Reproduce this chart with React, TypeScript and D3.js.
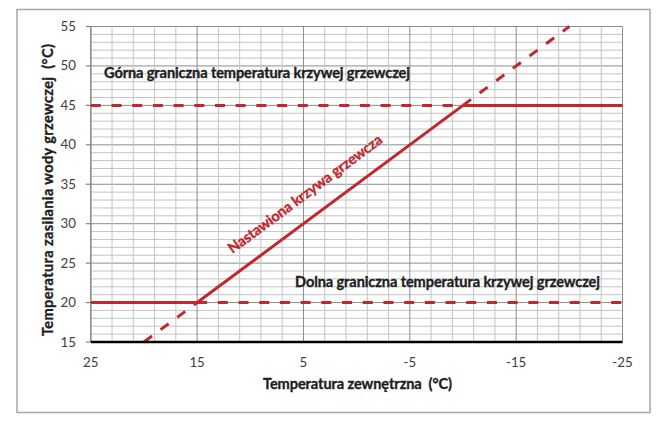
import React from "react";
import * as d3 from "d3";

const xTicks = [25, 15, 5, -5, -15, -25];
const yTicks = [15, 20, 25, 30, 35, 40, 45, 50, 55];
// heating curve: dashed lower part, solid set part, dashed upper part
const curveLowDashed: [number, number][] = [[20, 15], [15, 20]];
const curveSolid: [number, number][] = [[15, 20], [-10, 45]];
const curveHighDashed: [number, number][] = [[-10, 45], [-20, 55]];
// lower limit (20 °C)
const lowSolid: [number, number][] = [[25, 20], [15, 20]];
const lowDashed: [number, number][] = [[15, 20], [-25, 20]];
// upper limit (45 °C)
const highDashed: [number, number][] = [[25, 45], [-10, 45]];
const highSolid: [number, number][] = [[-10, 45], [-25, 45]];

const labelUpper = "Górna graniczna temperatura krzywej grzewczej";
const labelLower = "Dolna graniczna temperatura krzywej grzewczej";
const labelCurve = "Nastawiona krzywa grzewcza";
const xTitle = "Temperatura zewnętrzna\u00a0 (°C)";
const yTitle = "Temperatura zasilania wody grzewczej\u00a0 (°C)";

const RED = "#c1272d";
const FONT = "Lato, 'Open Sans', sans-serif";

export default function App() {
  const x = d3.scaleLinear().domain([25, -25]).range([90.8, 622.5]);
  const y = d3.scaleLinear().domain([15, 55]).range([342, 26.5]);
  const line = d3
    .line<[number, number]>()
    .x((d) => x(d[0]))
    .y((d) => y(d[1]));
  const xMinor = d3.range(-25, 25.01, 2);
  const yMinor = d3.range(15, 55.01, 1);
  const dash = "10 10.7";
  const fs = 14.6;
  const dark = "#1e1e1e";

  return (
    <svg
      width={670}
      height={427}
      style={{ position: "absolute", left: 0, top: 0, background: "#fff" }}
      fontFamily={FONT}
    >
      <rect x={17} y={9.5} width={633} height={403} fill="#fff" stroke="#a6a6a6" strokeWidth={1.5} />
      {/* minor grid */}
      {yMinor.map((v) => (
        <line key={"ym" + v} x1={x(25)} x2={x(-25)} y1={y(v)} y2={y(v)} stroke={v % 5 === 0 ? "#8c8c8c" : "#c4c4c4"} strokeWidth={1} />
      ))}
      {xMinor.map((v) => (
        <line key={"xm" + v} x1={x(v)} x2={x(v)} y1={y(15)} y2={y(55)} stroke={(v + 25) % 10 === 0 ? "#8c8c8c" : "#c4c4c4"} strokeWidth={1} />
      ))}
      {/* left axis */}
      <line x1={x(25)} x2={x(25)} y1={y(15)} y2={y(55)} stroke="#868686" strokeWidth={1.2} />
      {yTicks.map((v) => (
        <g key={"yt" + v}>
          <line x1={x(25) - 5} x2={x(25)} y1={y(v)} y2={y(v)} stroke="#868686" strokeWidth={1.2} />
          <text x={76} y={y(v) + 4.5} textAnchor="end" fontSize={13.3} fill="#404040">
            {v}
          </text>
        </g>
      ))}
      {xTicks.map((v) => (
        <text key={"xt" + v} x={x(v)} y={367} textAnchor="middle" fontSize={13.3} fill="#404040">
          {v}
        </text>
      ))}
      {/* red lines */}
      <g fill="none" stroke={RED} strokeWidth={3}>
        <path d={line(lowSolid) || ""} />
        <path d={line(lowDashed) || ""} strokeDasharray={dash} />
        <path d={line(highDashed) || ""} strokeDasharray={dash} />
        <path d={line(highSolid) || ""} />
        <path d={line(curveLowDashed) || ""} strokeDasharray={dash} />
        <path d={line(curveSolid) || ""} />
        <path d={line(curveHighDashed) || ""} strokeDasharray={dash} />
      </g>
      {/* bottom axis */}
      <line x1={x(25)} x2={x(-25)} y1={y(15)} y2={y(15)} stroke="#000" strokeWidth={2.5} />
      {/* annotations */}
      <g fontSize={fs} fontWeight="bold" strokeWidth={0.35}>
        <text x={104} y={78} fill={dark} stroke={dark} textLength={306} lengthAdjust="spacing">
          {labelUpper}
        </text>
        <text x={295} y={287} fill={dark} stroke={dark} textLength={305} lengthAdjust="spacing">
          {labelLower}
        </text>
        <text
          transform="translate(308,198) rotate(-36.6)"
          textAnchor="middle"
          fill={RED}
          stroke={RED}
          textLength={188}
          lengthAdjust="spacing"
        >
          {labelCurve}
        </text>
        <text x={357.5} y={389} textAnchor="middle" fill={dark} stroke={dark} textLength={189} lengthAdjust="spacing">
          {xTitle}
        </text>
        <text
          transform="translate(53,190) rotate(-90)"
          textAnchor="middle"
          fill={dark}
          stroke={dark}
          textLength={292}
          lengthAdjust="spacing"
        >
          {yTitle}
        </text>
      </g>
    </svg>
  );
}
